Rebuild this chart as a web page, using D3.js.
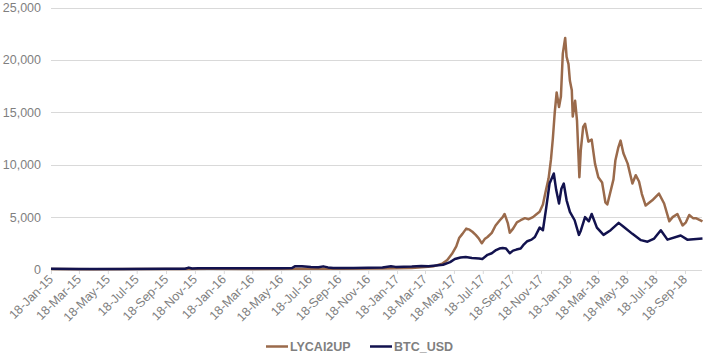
<html>
<head>
<script src="https://d3js.org/d3.v7.min.js"></script>
<style>
  body { margin: 0; background: #fff; }
  svg { font-family: "Liberation Sans", Arial, sans-serif; }
  .grid line { stroke: #d9d9d9; stroke-width: 1; }
  .lbl { fill: #7f7f7f; font-size: 12.5px; }
  .leg { fill: #7f7f7f; font-size: 12.5px; font-weight: bold; }
</style>
</head>
<body>
<svg width="704" height="353"></svg>
<script>
// ---- data ----
var seriesNames = ["LYCAI2UP", "BTC_USD"];
var seriesColors = ["#9a6a4b", "#12124e"];

var yTicks = [0, 5000, 10000, 15000, 20000, 25000];
var xTickLabels = ["18-Jan-15","18-Mar-15","18-May-15","18-Jul-15","18-Sep-15","18-Nov-15",
  "18-Jan-16","18-Mar-16","18-May-16","18-Jul-16","18-Sep-16","18-Nov-16",
  "18-Jan-17","18-Mar-17","18-May-17","18-Jul-17","18-Sep-17","18-Nov-17",
  "18-Jan-18","18-Mar-18","18-May-18","18-Jul-18","18-Sep-18"];

var lycDates = ["2015-01-18","2015-04-18","2015-07-18","2015-10-18","2015-12-18","2016-03-18",
  "2016-06-18","2016-09-18","2016-12-18","2017-02-18","2017-03-18","2017-04-06","2017-04-23",
  "2017-05-04","2017-05-14","2017-05-23","2017-05-29","2017-06-05","2017-06-13","2017-06-20",
  "2017-06-26","2017-07-03","2017-07-09","2017-07-16","2017-07-22","2017-07-28","2017-08-06",
  "2017-08-14","2017-08-23","2017-08-29","2017-09-02","2017-09-09","2017-09-13","2017-09-20",
  "2017-09-28","2017-10-06","2017-10-15","2017-10-23","2017-11-01","2017-11-09","2017-11-15",
  "2017-11-22","2017-11-28","2017-12-04","2017-12-09","2017-12-13","2017-12-17","2017-12-21",
  "2017-12-26","2017-12-30","2018-01-03","2018-01-08","2018-01-11","2018-01-15","2018-01-18",
  "2018-01-22","2018-01-24","2018-01-29","2018-02-02","2018-02-07","2018-02-10","2018-02-15",
  "2018-02-19","2018-02-26","2018-03-05","2018-03-12","2018-03-19","2018-03-27","2018-03-30",
  "2018-04-03","2018-04-07","2018-04-13","2018-04-20","2018-04-24","2018-04-30","2018-05-05",
  "2018-05-11","2018-05-20","2018-05-30","2018-06-06","2018-06-13","2018-06-19","2018-06-27",
  "2018-07-11","2018-07-25","2018-08-05","2018-08-16","2018-08-23","2018-09-02","2018-09-13",
  "2018-09-20","2018-09-27","2018-10-05","2018-10-11","2018-10-25"];
var lycValues = [40,30,40,40,60,50,
  60,70,90,150,250,320,550,
  900,1500,2200,3000,3400,3900,3800,
  3600,3300,3000,2500,2900,3100,3500,
  4200,4700,5000,5300,4400,3500,3900,
  4500,4700,4900,4800,5000,5300,5500,
  6200,7500,8700,10500,12500,15000,16900,
  15500,16500,20600,22100,20300,19600,18000,
  17100,14600,16100,14200,8800,11400,13600,
  13900,12200,12400,10100,8800,8300,7500,
  6400,6200,7300,8600,10400,11600,12300,
  11100,10100,8200,9000,8400,7200,6100,
  6600,7250,6300,4600,5000,5300,4200,
  4500,5200,4900,4900,4600];

var btcDates = ["2015-01-18","2015-03-18","2015-06-18","2015-09-18","2015-10-28","2015-11-05",
  "2015-11-12","2015-11-25","2015-12-10","2016-01-18","2016-03-18","2016-05-18","2016-06-10",
  "2016-06-16","2016-07-01","2016-07-20","2016-08-05","2016-08-15","2016-08-25","2016-09-05",
  "2016-10-18","2016-11-18","2016-12-18","2017-01-05","2017-01-15","2017-02-18","2017-03-10",
  "2017-03-25","2017-04-10","2017-04-25","2017-05-10","2017-05-20","2017-06-01","2017-06-12",
  "2017-06-25","2017-07-10","2017-07-17","2017-07-28","2017-08-06","2017-08-15","2017-08-22",
  "2017-08-29","2017-09-05","2017-09-13","2017-09-20","2017-09-27","2017-10-06","2017-10-13",
  "2017-10-20","2017-10-29","2017-11-05","2017-11-15","2017-11-22","2017-11-29","2017-12-06",
  "2017-12-15","2017-12-20","2017-12-26","2017-12-31","2018-01-05","2018-01-11","2018-01-18",
  "2018-01-28","2018-02-06","2018-02-10","2018-02-19","2018-02-27","2018-03-05","2018-03-16",
  "2018-03-30","2018-04-14","2018-05-01","2018-05-12","2018-05-30","2018-06-17","2018-07-01",
  "2018-07-15","2018-07-29","2018-08-12","2018-09-09","2018-09-23","2018-10-25"];
var btcValues = [60,50,55,60,70,180,
  90,120,130,120,110,120,140,
  300,310,250,220,300,200,150,
  140,160,200,300,250,280,330,
  300,380,450,700,1000,1150,1200,
  1100,1050,1000,1400,1550,1850,2000,
  2060,2000,1550,1800,1900,2000,2400,
  2700,2850,3100,4000,3750,5900,8200,
  9160,7600,6300,7700,8200,6600,5500,
  4700,3300,3700,5000,4600,5300,4000,
  3300,3750,4450,4050,3400,2800,2650,
  2950,3750,2850,3250,2850,2950];

// ---- chart ----
var svg = d3.select("svg");
var parseIso = d3.timeParse("%Y-%m-%d");
var parseTick = d3.timeParse("%d-%b-%y");

var x = d3.scaleTime()
  .domain([parseIso("2015-01-18"), parseIso("2018-10-24")])
  .range([51, 702]);
var y = d3.scaleLinear().domain([0, 25000]).range([269.5, 7.5]);

// gridlines
svg.append("g").attr("class", "grid")
  .selectAll("line").data(yTicks.slice(1)).enter().append("line")
  .attr("x1", 51).attr("x2", 702)
  .attr("y1", function (d) { return Math.round(y(d)) + 0.5; })
  .attr("y2", function (d) { return Math.round(y(d)) + 0.5; });

// y labels
svg.selectAll(".ylbl").data(yTicks).enter().append("text")
  .attr("class", "lbl")
  .attr("x", 41)
  .attr("y", function (d) { return y(d) + 4.5; })
  .attr("text-anchor", "end")
  .text(function (d) { return d3.format(",")(d); });

// x axis
var xTicks = xTickLabels.map(function (s) { return parseTick(s); });
var xAxis = d3.axisBottom(x).tickValues(xTicks).tickSize(4).tickFormat("");
var gx = svg.append("g").attr("transform", "translate(0,270)").call(xAxis);
gx.select(".domain").attr("stroke", "#d9d9d9").attr("d", "M51,0.5H702");
gx.selectAll(".tick line").attr("stroke", "#d9d9d9");

svg.selectAll(".xlbl").data(xTickLabels).enter().append("text")
  .attr("class", "lbl")
  .attr("text-anchor", "end")
  .attr("transform", function (d) {
    return "translate(" + (x(parseTick(d)) + 3) + ",280) rotate(-45)";
  })
  .text(function (d) { return d; });

// lines
var line = d3.line()
  .x(function (d) { return x(d.date); })
  .y(function (d) { return y(d.value); });

function build(dates, values) {
  return dates.map(function (d, i) { return { date: parseIso(d), value: values[i] }; });
}

var series = [build(lycDates, lycValues), build(btcDates, btcValues)];
series.forEach(function (s, i) {
  svg.append("path").datum(s)
    .attr("fill", "none")
    .attr("stroke", seriesColors[i])
    .attr("stroke-width", 2.5)
    .attr("stroke-linejoin", "round")
    .attr("d", line);
});

// legend
var legX = [266, 370];
seriesNames.forEach(function (n, i) {
  svg.append("line")
    .attr("x1", legX[i]).attr("x2", legX[i] + 22)
    .attr("y1", 346.5).attr("y2", 346.5)
    .attr("stroke", seriesColors[i]).attr("stroke-width", 2.5);
  svg.append("text").attr("class", "leg")
    .attr("x", legX[i] + 24).attr("y", 351)
    .text(n);
});
</script>
</body>
</html>
